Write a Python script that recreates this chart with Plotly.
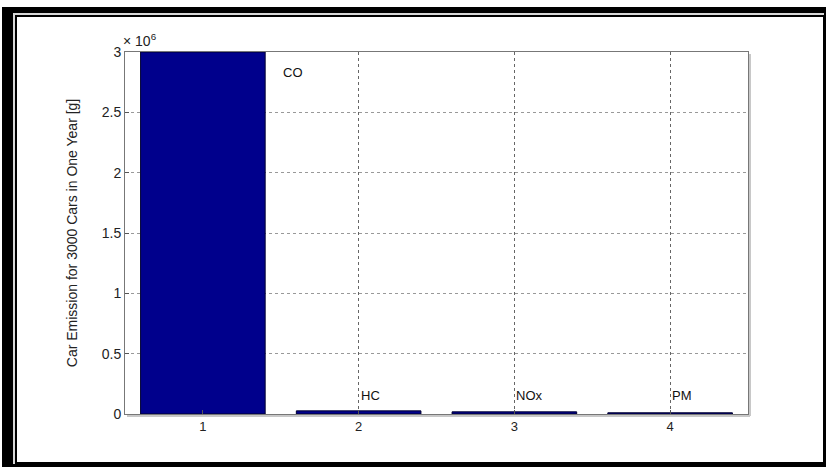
import plotly.graph_objects as go

categories = [1, 2, 3, 4]
pollutants = ["CO", "HC", "NOx", "PM"]
emissions = [3.0e6, 2.6e4, 1.8e4, 1.0e4]
ytick_vals = [0, 0.5e6, 1.0e6, 1.5e6, 2.0e6, 2.5e6, 3.0e6]
ytick_text = ["0", "0.5", "1", "1.5", "2", "2.5", "3"]
label_x = [1.5, 2.0, 3.0, 4.0]
label_y = [2.83e6, 1.5e5, 1.5e5, 1.5e5]

W, H = 827, 470
L, R, T, B = 125, 748, 52, 414

def px(x):
    return (x - L) / (R - L)

def py(y):
    return (B - y) / (B - T)

fig = go.Figure()
fig.add_trace(go.Bar(
    x=categories, y=emissions, width=0.8,
    marker=dict(color="#00008C", line=dict(color="#000030", width=1)),
    showlegend=False,
))

annotations = []
for xv, yv, t in zip(label_x, label_y, pollutants):
    annotations.append(dict(x=xv, y=yv, xref="x", yref="y", text=t, showarrow=False,
                            xanchor="left", yanchor="middle",
                            font=dict(family="Liberation Sans, Arial", size=13, color="#111")))
annotations.append(dict(x=px(121), y=py(40), xref="paper", yref="paper",
                        text="× 10<sup>6</sup>", showarrow=False, xanchor="left", yanchor="middle",
                        font=dict(family="Liberation Sans, Arial", size=14, color="#222")))

shapes = [
    # outer black frame
    dict(type="rect", xref="paper", yref="paper", x0=px(2), x1=px(826), y0=py(7), y1=py(467),
         fillcolor="black", line=dict(width=0), layer="below"),
    dict(type="rect", xref="paper", yref="paper", x0=px(13), x1=px(824), y0=py(13), y1=py(464),
         fillcolor="#d8d8d8", line=dict(width=0), layer="below"),
    dict(type="rect", xref="paper", yref="paper", x0=px(15), x1=px(824), y0=py(15), y1=py(464),
         fillcolor="black", line=dict(width=0), layer="below"),
    dict(type="rect", xref="paper", yref="paper", x0=px(17), x1=px(823), y0=py(17), y1=py(462),
         fillcolor="white", line=dict(width=0), layer="below"),
    # plot box shadow
    dict(type="line", xref="paper", yref="paper", x0=px(750), x1=px(750), y0=py(54), y1=py(416),
         line=dict(color="#c8c8c8", width=2)),
    dict(type="line", xref="paper", yref="paper", x0=px(127), x1=px(750), y0=py(416), y1=py(416),
         line=dict(color="#c8c8c8", width=2)),
]

fig.update_layout(
    width=W, height=H,
    margin=dict(l=L, r=W - R, t=T, b=H - B),
    paper_bgcolor="white", plot_bgcolor="white",
    font=dict(family="Liberation Sans, Arial", size=13, color="#222"),
    annotations=annotations, shapes=shapes,
    xaxis=dict(range=[0.5, 4.5], tickvals=categories, ticktext=[str(c) for c in categories],
               showgrid=True, gridcolor="#666", griddash="dot", gridwidth=1,
               showline=True, linecolor="#777", linewidth=1, mirror=True,
               ticks="inside", ticklen=4, tickcolor="#555", zeroline=False,
               tickfont=dict(size=13, color="#222")),
    yaxis=dict(range=[0, 3.0e6], tickvals=ytick_vals, ticktext=ytick_text,
               showgrid=True, gridcolor="#999", griddash="dot", gridwidth=1,
               showline=True, linecolor="#777", linewidth=1, mirror=True,
               ticks="inside", ticklen=4, tickcolor="#555", zeroline=False,
               tickfont=dict(size=14, color="#222"),
               title=dict(text="Car Emission for 3000 Cars in One Year [g]", standoff=20,
                          font=dict(family="Liberation Sans, Arial", size=14, color="#222"))),
    bargap=0.2,
)

fig.write_html("out.html", config={"displayModeBar": False},
               post_script="document.body.style.margin='0';document.body.style.padding='0';")
